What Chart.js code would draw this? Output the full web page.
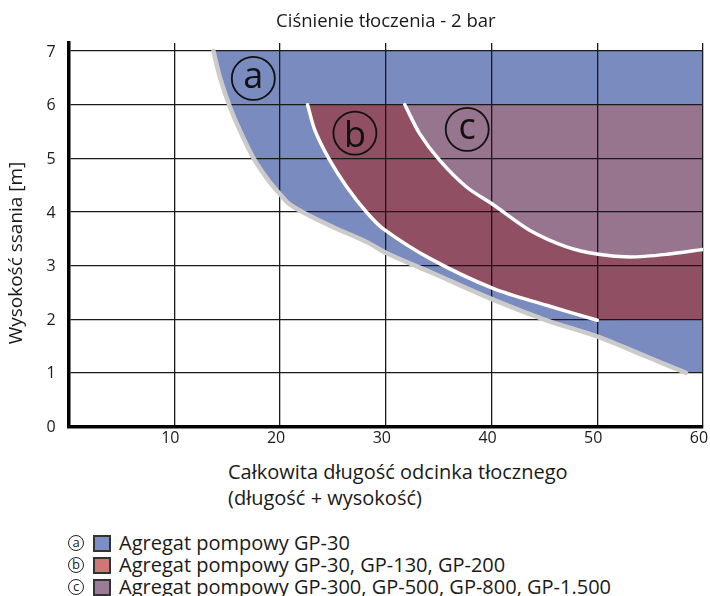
<!DOCTYPE html>
<html lang="pl">
<head>
<meta charset="utf-8">
<title>Ciśnienie tłoczenia - 2 bar</title>
<script src="https://cdn.jsdelivr.net/npm/chart.js@4/dist/chart.umd.min.js"></script>
<style>
  body { margin: 0; background: #fff; font-family: "Open Sans", sans-serif; color: #1a1a1a; }
  #wrap { position: relative; width: 710px; height: 596px; overflow: hidden; }
  #box { position: absolute; left: 0; top: 0; width: 710px; height: 455px; }
  #osX { position: absolute; left: 228px; top: 459px; font-size: 20px; line-height: 26px; }
  #legenda { position: absolute; left: 68px; top: 532px; font-size: 20px; line-height: 22px; }
  .poz { display: flex; align-items: center; height: 22px; white-space: nowrap; }
  .kolko { box-sizing: border-box; width: 16px; height: 16px; border: 1px solid #222; border-radius: 50%;
           font-size: 13px; line-height: 13px; text-align: center; margin-right: 9px; }
  .kwadrat { box-sizing: border-box; width: 18px; height: 17px; border: 2px solid #333; margin-right: 8px; }
</style>
</head>
<body>
<div id="wrap">
  <div id="box"><canvas id="wykres"></canvas></div>
  <div id="osX"></div>
  <div id="legenda"></div>
</div>
<script>
const tytul = "Ciśnienie tłoczenia - 2 bar";
const tytulY = "Wysokość ssania [m]";
const tytulX = ["Całkowita długość odcinka tłocznego", "(długość + wysokość)"];
const znaczniki = ["a", "b", "c"];
const opisy = [
    "Agregat pompowy GP-30",
    "Agregat pompowy GP-30, GP-130, GP-200",
    "Agregat pompowy GP-300, GP-500, GP-800, GP-1.500"
];
const ticksX = [10, 20, 30, 40, 50, 60];
const ticksY = [0, 1, 2, 3, 4, 5, 6, 7];

// granica obszaru a (szara linia)
const krzywaAx = [13.7, 14.3, 15.2, 16.2, 17.5, 18.9, 20.0, 20.8, 22.2, 25.0, 28.2, 30.1, 34.2, 40.2, 45.2, 50.1, 54.7, 58.4];
const krzywaAy = [7.0, 6.52, 5.99, 5.52, 5.0, 4.59, 4.33, 4.16, 3.99, 3.72, 3.44, 3.23, 2.88, 2.36, 1.98, 1.67, 1.30, 1.0];
const rogiAx = [60, 60];
const rogiAy = [1.0, 7.0];

// granica obszaru b (biała linia)
const krzywaBx = [22.6, 23.3, 24.6, 26.3, 28.2, 29.8, 34.2, 40.2, 45.2, 50.0];
const krzywaBy = [6.0, 5.52, 5.0, 4.47, 3.99, 3.68, 3.13, 2.57, 2.26, 1.98];
const rogiBx = [60, 60];
const rogiBy = [2.0, 6.0];

// granica obszaru c (biała linia)
const krzywaCx = [31.8, 33.2, 35.1, 37.6, 40.2, 43.6, 47.1, 50.1, 53.1, 56.6, 60];
const krzywaCy = [6.0, 5.46, 4.96, 4.47, 4.13, 3.66, 3.35, 3.21, 3.16, 3.21, 3.30];
const rogiCx = [60];
const rogiCy = [6.0];

const kolory = ["#7a8bbf", "#904f62", "#97758f"];
const koloryLegendy = ["#7b8ec6", "#cf7677", "#9a7b98"];

const pkt = (xs, ys) => xs.map((x, i) => ({ x: x, y: ys[i] }));

// opisy osi X i legenda w HTML
document.getElementById("osX").innerHTML = tytulX.map(t => `<div>${t}</div>`).join("");
document.getElementById("legenda").innerHTML = opisy.map((t, i) =>
    `<div class="poz"><span class="kolko">${znaczniki[i]}</span>` +
    `<span class="kwadrat" style="background:${koloryLegendy[i]}"></span><span>${t}</span></div>`
).join("");

const kolkaPlugin = { // litery w kółkach na wykresie + opis osi Y
    id: "kolka",
    afterDatasetsDraw(chart, args, opts) {
        const { ctx, scales } = chart;
        ctx.save();
        ctx.strokeStyle = "#111";
        ctx.fillStyle = "#111";
        ctx.lineWidth = 1.8;
        ctx.font = '36px "Open Sans"';
        ctx.textAlign = "center";
        ctx.textBaseline = "alphabetic";
        opts.punkty.forEach(p => {
            const cx = scales.x.getPixelForValue(p.x);
            const cy = scales.y.getPixelForValue(p.y);
            ctx.beginPath();
            ctx.arc(cx, cy, 21.5, 0, Math.PI * 2);
            ctx.stroke();
            const m = ctx.measureText(p.t);
            const by = cy + (m.actualBoundingBoxAscent - m.actualBoundingBoxDescent) / 2;
            ctx.fillText(p.t, cx, by);
        });
        ctx.restore();
    },
    afterDraw(chart, args, opts) {
        const ctx = chart.ctx;
        ctx.save();
        ctx.translate(opts.tytulPos[0], opts.tytulPos[1]);
        ctx.rotate(-Math.PI / 2);
        ctx.font = '19px "Open Sans"';
        ctx.fillStyle = "#1a1a1a";
        ctx.textAlign = "center";
        ctx.textBaseline = "middle";
        ctx.fillText(tytulY, 0, 0);
        ctx.restore();
    }
};

const ctx = document.getElementById("wykres").getContext("2d");

new Chart(ctx, {
    type: "line",
    data: {
        datasets: [
            { label: "c-linia", data: pkt(krzywaCx, krzywaCy), borderColor: "#ffffff", borderWidth: 3.5, tension: 0.3, fill: false, order: 1 },
            { label: "b-linia", data: pkt(krzywaBx, krzywaBy), borderColor: "#ffffff", borderWidth: 3.5, tension: 0.3, fill: false, order: 2 },
            { label: "a-linia", data: pkt(krzywaAx, krzywaAy), borderColor: "#cbcbcb", borderWidth: 4.5, tension: 0.3, fill: false, order: 3 },
            { label: "c", data: pkt([...krzywaCx, ...rogiCx], [...krzywaCy, ...rogiCy]), backgroundColor: kolory[2], borderWidth: 0, fill: "shape", order: 4 },
            { label: "b", data: pkt([...krzywaBx, ...rogiBx], [...krzywaBy, ...rogiBy]), backgroundColor: kolory[1], borderWidth: 0, fill: "shape", order: 5 },
            { label: "a", data: pkt([...krzywaAx, ...rogiAx], [...krzywaAy, ...rogiAy]), backgroundColor: kolory[0], borderWidth: 0, fill: "shape", order: 6 }
        ]
    },
    options: {
        responsive: true,
        maintainAspectRatio: false,
        animation: false,
        layout: { padding: { left: 0, right: 7, top: 0, bottom: 0 } },
        elements: { point: { radius: 0 }, line: { borderCapStyle: "round" } },
        plugins: {
            legend: { display: false },
            tooltip: { enabled: false },
            filler: { drawTime: "beforeDraw" },
            title: {
                display: true,
                text: tytul,
                fullSize: false,
                color: "#1a1a1a",
                font: { family: "Open Sans", size: 18.5, weight: "normal" },
                padding: { top: 10.5, bottom: 10.3 }
            },
            kolka: {
                tytulPos: [17, 253],
                punkty: [
                    { t: znaczniki[0], x: 17.47, y: 6.49 },
                    { t: znaczniki[1], x: 27.08, y: 5.47 },
                    { t: znaczniki[2], x: 37.7, y: 5.54 }
                ]
            }
        },
        scales: {
            x: {
                type: "linear",
                min: 0,
                max: 60,
                afterBuildTicks: s => { s.ticks = ticksX.map(v => ({ value: v })); },
                afterFit: s => { s.height = 455 - 426.5; s.paddingLeft = 0; s.paddingRight = 0; },
                ticks: { color: "#1a1a1a", font: { family: "Open Sans", size: 16 }, padding: 2, labelOffset: -4, maxRotation: 0 },
                grid: { color: "#1a1a1a", lineWidth: 1.3, drawTicks: false },
                border: { color: "#000", width: 3.5 }
            },
            y: {
                type: "linear",
                min: 0,
                max: 7.15,
                afterBuildTicks: s => { s.ticks = ticksY.map(v => ({ value: v })); },
                afterFit: s => { s.width = 68.6; },
                ticks: { color: "#1a1a1a", font: { family: "Open Sans", size: 16 }, padding: 13, labelOffset: 1 },
                grid: { color: "#1a1a1a", lineWidth: 1.3, drawTicks: false },
                border: { color: "#000", width: 3.5 }
            }
        }
    },
    plugins: [kolkaPlugin]
});
</script>
</body>
</html>
